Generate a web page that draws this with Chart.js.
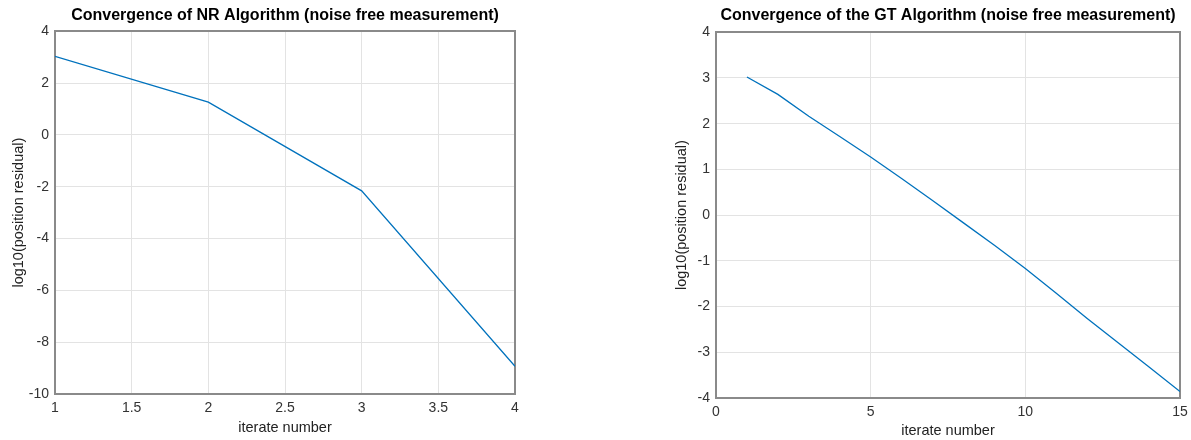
<!DOCTYPE html>
<html>
<head>
<meta charset="utf-8">
<script src="https://cdn.jsdelivr.net/npm/chart.js@4/dist/chart.umd.min.js"></script>
<style>
    html, body { margin: 0; padding: 0; background: #fff; overflow: hidden; }
    canvas { position: absolute; top: 0; }
    #nrChart { left: 0; }
    #gtChart { left: 640px; }
</style>
</head>
<body>
<canvas id="nrChart" width="570" height="440"></canvas>
<canvas id="gtChart" width="616" height="440"></canvas>
<script>
const nrIterates = [1, 2, 3, 4];
const nrResidual = [3.03, 1.26, -2.16, -8.93];

const gtIterates = [1, 2, 3, 4, 5, 6, 7, 8, 9, 10, 11, 12, 13, 14, 15];
const gtResidual = [3.02, 2.64, 2.16, 1.72, 1.27, 0.80, 0.32, -0.17, -0.66, -1.17, -1.71, -2.26, -2.79, -3.32, -3.86];

const FONT = "'Liberation Sans', Arial, Helvetica, sans-serif";
const LINE_BLUE = "#0072BD";
const BOX_GREY = "#8a8a8a";
const GRID_GREY = "#e3e3e3";
const TEXT_GREY = "#333333";

function makeChart(id, opts) {
    const points = opts.xs.map((x, i) => ({ x: x, y: opts.ys[i] }));

    return new Chart(document.getElementById(id), {
        type: "line",
        data: {
            datasets: [{
                data: points,
                borderColor: LINE_BLUE,
                borderWidth: 1.3,
                pointRadius: 0,
                tension: 0,
                fill: false
            }]
        },
        options: {
            responsive: false,
            animation: false,
            layout: { padding: 0 },
            plugins: {
                legend: { display: false },
                tooltip: { enabled: false },
                title: {
                    display: true,
                    text: opts.title,
                    color: "#000",
                    font: { family: FONT, size: 16, weight: "bold" },
                    padding: { top: 6, bottom: opts.titleGap }
                }
            },
            scales: {
                x: {
                    type: "linear",
                    position: "bottom",
                    min: opts.xMin,
                    max: opts.xMax,
                    ticks: {
                        stepSize: opts.xStep,
                        color: TEXT_GREY,
                        font: { family: FONT, size: 14 },
                        padding: 6,
                        maxRotation: 0,
                        callback: (value) => String(value)
                    },
                    grid: { color: GRID_GREY, drawTicks: false },
                    border: { color: BOX_GREY, width: 2 },
                    title: {
                        display: true,
                        text: "iterate number",
                        color: "#222",
                        font: { family: FONT, size: 14.5 },
                        padding: { top: 0, bottom: opts.xTitlePad }
                    },
                    afterFit: (scale) => { scale.height = opts.xAxisHeight; }
                },
                y: {
                    type: "linear",
                    position: "left",
                    min: opts.yMin,
                    max: opts.yMax,
                    ticks: {
                        stepSize: opts.yStep,
                        color: TEXT_GREY,
                        font: { family: FONT, size: 14 },
                        padding: 6
                    },
                    grid: { color: GRID_GREY, drawTicks: false },
                    border: { color: BOX_GREY, width: 2 },
                    title: {
                        display: true,
                        text: "log10(position residual)",
                        color: "#222",
                        font: { family: FONT, size: 14.5 },
                        padding: { top: opts.yTitlePad, bottom: 0 }
                    },
                    afterFit: (scale) => { scale.width = opts.yAxisWidth; }
                },
                // top and right edges of the box
                xTop: {
                    type: "linear",
                    position: "top",
                    min: opts.xMin,
                    max: opts.xMax,
                    ticks: { display: false },
                    grid: { display: false, drawTicks: false },
                    border: { color: BOX_GREY, width: 2 },
                    afterFit: (scale) => { scale.height = 0; }
                },
                yRight: {
                    type: "linear",
                    position: "right",
                    min: opts.yMin,
                    max: opts.yMax,
                    ticks: { display: false },
                    grid: { display: false, drawTicks: false },
                    border: { color: BOX_GREY, width: 2 },
                    afterFit: (scale) => { scale.width = opts.rightGap; }
                }
            }
        }
    });
}

const nrChart = makeChart("nrChart", {
    title: "Convergence of NR Algorithm (noise free measurement)",
    xs: nrIterates,
    ys: nrResidual,
    xMin: 1, xMax: 4, xStep: 0.5,
    yMin: -10, yMax: 4, yStep: 2,
    rightGap: 55,
    titleGap: 6,
    yAxisWidth: 55,
    xAxisHeight: 46,
    xTitlePad: 3,
    yTitlePad: 10
});

const gtChart = makeChart("gtChart", {
    title: "Convergence of the GT Algorithm (noise free measurement)",
    xs: gtIterates,
    ys: gtResidual,
    xMin: 0, xMax: 15, xStep: 5,
    yMin: -4, yMax: 4, yStep: 1,
    rightGap: 76,
    titleGap: 7,
    yAxisWidth: 76,
    xAxisHeight: 42,
    xTitlePad: 0,
    yTitlePad: 33
});
</script>
</body>
</html>
